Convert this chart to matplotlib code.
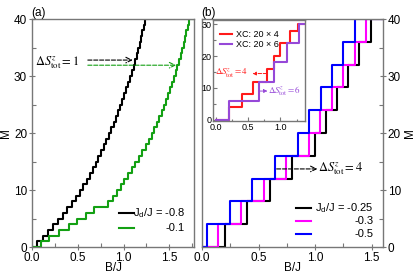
import matplotlib
matplotlib.use('Agg')
from matplotlib import pyplot as plt
from matplotlib.lines import Line2D
from matplotlib.ticker import MultipleLocator

plt.rcParams['font.family'] = ['Liberation Sans', 'DejaVu Sans']
plt.rcParams['mathtext.fontset'] = 'custom'
plt.rcParams['mathtext.rm'] = 'Liberation Sans'
plt.rcParams['mathtext.it'] = 'Liberation Sans:italic'

# ---- panel (a): B/J where M steps up to 1, 2, ..., 40
m_a = list(range(0, 41))
bj_m08 = [0.06, 0.117, 0.173, 0.228, 0.282, 0.335, 0.386, 0.435, 0.482, 0.525,
          0.561, 0.596, 0.630, 0.663, 0.695, 0.726, 0.756, 0.785, 0.813, 0.840,
          0.866, 0.891, 0.915, 0.939, 0.962, 0.985, 1.007, 1.029, 1.050, 1.071,
          1.090, 1.109, 1.127, 1.144, 1.161, 1.177, 1.192, 1.206, 1.219, 1.232]
bj_m01 = [0.095, 0.19, 0.29, 0.40, 0.49, 0.59, 0.68, 0.83, 0.88, 0.925,
          0.968, 1.010, 1.051, 1.091, 1.130, 1.168, 1.205, 1.241, 1.276, 1.310,
          1.338, 1.365, 1.391, 1.416, 1.440, 1.464, 1.487, 1.509, 1.530, 1.550,
          1.569, 1.588, 1.606, 1.623, 1.640, 1.656, 1.671, 1.686, 1.700, 1.714]

# ---- panel (b): steps of 4
m_b = [0, 4, 8, 12, 16, 20, 24, 28, 32, 36, 40]
bj_m025 = [0.2, 0.4, 0.6, 0.8, 1.0, 1.1, 1.19, 1.295, 1.39, 1.495]
bj_m03 = [0.145, 0.345, 0.545, 0.745, 0.945, 1.04, 1.15, 1.245, 1.35, 1.45]
bj_m05 = [0.045, 0.245, 0.445, 0.645, 0.845, 0.95, 1.05, 1.15, 1.25, 1.35]

# ---- inset: XC results
m_xc4 = [0, 4, 8, 12, 16, 20, 24, 28, 30]
bj_xc4 = [0.2, 0.4, 0.58, 0.79, 0.9, 0.99, 1.15, 1.27]
m_xc6 = [0, 6, 12, 18, 24, 30]
bj_xc6 = [0.2, 0.67, 0.9, 1.1, 1.29]

spine_col = '#777777'
green = '#13a013'
purple = '#9648d8'


def stairs(ax, bvals, mvals, xmax, **kw):
    x = [0] + bvals + [xmax]
    y = mvals + [mvals[-1]]
    ax.step(x, y, where='post', **kw)


def style(ax, fs=8.5):
    for s in ax.spines.values():
        s.set_color(spine_col)
        s.set_linewidth(1.0)
    ax.tick_params(which='major', direction='inout', length=5, width=0.8,
                   color=spine_col, labelsize=fs, pad=1)
    ax.tick_params(which='minor', direction='in', length=3, width=0.8,
                   color=spine_col)


fig = plt.figure(figsize=(4.15, 2.74), dpi=100)
axa = fig.add_axes([0.0771, 0.0985, 0.3904, 0.832])
axb = fig.add_axes([0.4867, 0.0985, 0.4361, 0.832])
axi = fig.add_axes([0.5133, 0.5566, 0.2217, 0.3704])

# panel (a)
stairs(axa, bj_m08, m_a, 1.8, color='k', lw=1.5)
stairs(axa, bj_m01, m_a, 1.8, color=green, lw=1.5)
axa.set_xlim(0, 1.77)
axa.set_ylim(0, 40)
axa.xaxis.set_major_locator(MultipleLocator(0.5))
axa.xaxis.set_minor_locator(MultipleLocator(0.25))
axa.yaxis.set_major_locator(MultipleLocator(10))
axa.yaxis.set_minor_locator(MultipleLocator(5))
axa.set_xlabel('B/J', fontsize=8.5, labelpad=-1)
axa.set_ylabel('M', fontsize=8.5, labelpad=1)
style(axa)
axa.set_title('(a)', loc='left', fontsize=8.5, pad=2, x=-0.005)

axa.text(0.03, 32.4, r'$\Delta S^{z}_{\mathrm{tot}} = 1$', fontsize=9,
         math_fontfamily='stix', va='center', ha='left')
axa.annotate('', xy=(1.10, 32.8), xytext=(0.61, 32.8),
             arrowprops=dict(arrowstyle='->', ls='--', color='k', lw=0.8,
                             shrinkA=0, shrinkB=0))
axa.annotate('', xy=(1.575, 31.9), xytext=(0.61, 31.9),
             arrowprops=dict(arrowstyle='->', ls='--', color=green, lw=0.8,
                             shrinkA=0, shrinkB=0))

# legend (a)
for row, (c, lab) in enumerate([('k', r'J$_{\mathrm{d}}$/J = -0.8'), (green, '-0.1')]):
    yy = 0.148 - row * 0.063
    axa.add_line(Line2D([0.54, 0.63], [yy, yy], color=c, lw=1.5,
                        transform=axa.transAxes))
    axa.text(0.945, yy, lab, transform=axa.transAxes, ha='right',
             va='center', fontsize=8)

# panel (b)
stairs(axb, bj_m025, m_b, 1.7, color='k', lw=1.5)
stairs(axb, bj_m03, m_b, 1.7, color='#ff00ff', lw=1.5)
stairs(axb, bj_m05, m_b, 1.7, color='#0000ff', lw=1.5)
axb.set_xlim(0, 1.6)
axb.set_ylim(0, 40)
axb.xaxis.set_major_locator(MultipleLocator(0.5))
axb.xaxis.set_minor_locator(MultipleLocator(0.25))
axb.yaxis.set_major_locator(MultipleLocator(10))
axb.yaxis.set_minor_locator(MultipleLocator(5))
axb.yaxis.tick_right()
axb.yaxis.set_label_position('right')
axb.set_xlabel('B/J', fontsize=8.5, labelpad=-1)
axb.set_ylabel('M', fontsize=8.5, labelpad=2)
style(axb)
axb.set_title('(b)', loc='left', fontsize=8.5, pad=2, x=-0.005)

axb.annotate('', xy=(1.02, 13.7), xytext=(0.66, 13.7),
             arrowprops=dict(arrowstyle='->', ls='--', color='k', lw=0.8,
                             shrinkA=0, shrinkB=0))
axb.text(1.03, 13.7, r'$\Delta S^{z}_{\mathrm{tot}} = 4$', fontsize=9,
         math_fontfamily='stix', va='center', ha='left')

for row, (c, lab) in enumerate([('k', r'J$_{\mathrm{d}}$/J = -0.25'),
                                ('#ff00ff', '-0.3'), ('#0000ff', '-0.5')]):
    yy = 0.172 - row * 0.057
    axb.add_line(Line2D([0.52, 0.6], [yy, yy], color=c, lw=1.5,
                        transform=axb.transAxes))
    axb.text(0.95, yy, lab, transform=axb.transAxes, ha='right',
             va='center', fontsize=8)

# inset
stairs(axi, bj_xc4, m_xc4, 1.5, color='#ff1a1a', lw=1.5)
stairs(axi, bj_xc6, m_xc6, 1.5, color=purple, lw=1.5)
axi.set_xlim(-0.04, 1.38)
axi.set_ylim(-0.55, 31.3)
axi.xaxis.set_major_locator(MultipleLocator(0.5))
axi.xaxis.set_minor_locator(MultipleLocator(0.25))
axi.yaxis.set_major_locator(MultipleLocator(10))
axi.yaxis.set_minor_locator(MultipleLocator(5))
style(axi, fs=6.5)
axi.tick_params(which='major', direction='in', length=3)
axi.tick_params(which='minor', direction='in', length=1.8)
axi.set_facecolor('white')

for row, (c, lab) in enumerate([('#ff1a1a', u'XC: 20 \u00d7 4'), (purple, u'XC: 20 \u00d7 6')]):
    yy = 0.86 - row * 0.1
    axi.add_line(Line2D([0.08, 0.21], [yy, yy], color=c, lw=1.5,
                        transform=axi.transAxes))
    axi.text(0.25, yy, lab, transform=axi.transAxes, ha='left',
             va='center', fontsize=6.5)

axi.text(-0.01, 14.5, r'$\Delta S^{z}_{\mathrm{tot}} = 4$', fontsize=6.5,
         math_fontfamily='stix', color='#ff1a1a', va='center', ha='left')
axi.annotate('', xy=(0.57, 14.5), xytext=(0.79, 14.5),
             arrowprops=dict(arrowstyle='-|>', ls='--', color='#ff1a1a', lw=0.7,
                             mutation_scale=5, shrinkA=0, shrinkB=0))
axi.annotate('', xy=(0.8, 9.0), xytext=(0.67, 9.0),
             arrowprops=dict(arrowstyle='-|>', ls='--', color=purple, lw=0.7,
                             mutation_scale=5, shrinkA=0, shrinkB=0))
axi.text(0.81, 9.0, r'$\Delta S^{z}_{\mathrm{tot}} = 6$', fontsize=6.5,
         math_fontfamily='stix', color=purple, va='center', ha='left')

fig.savefig('out.png', dpi=100)
